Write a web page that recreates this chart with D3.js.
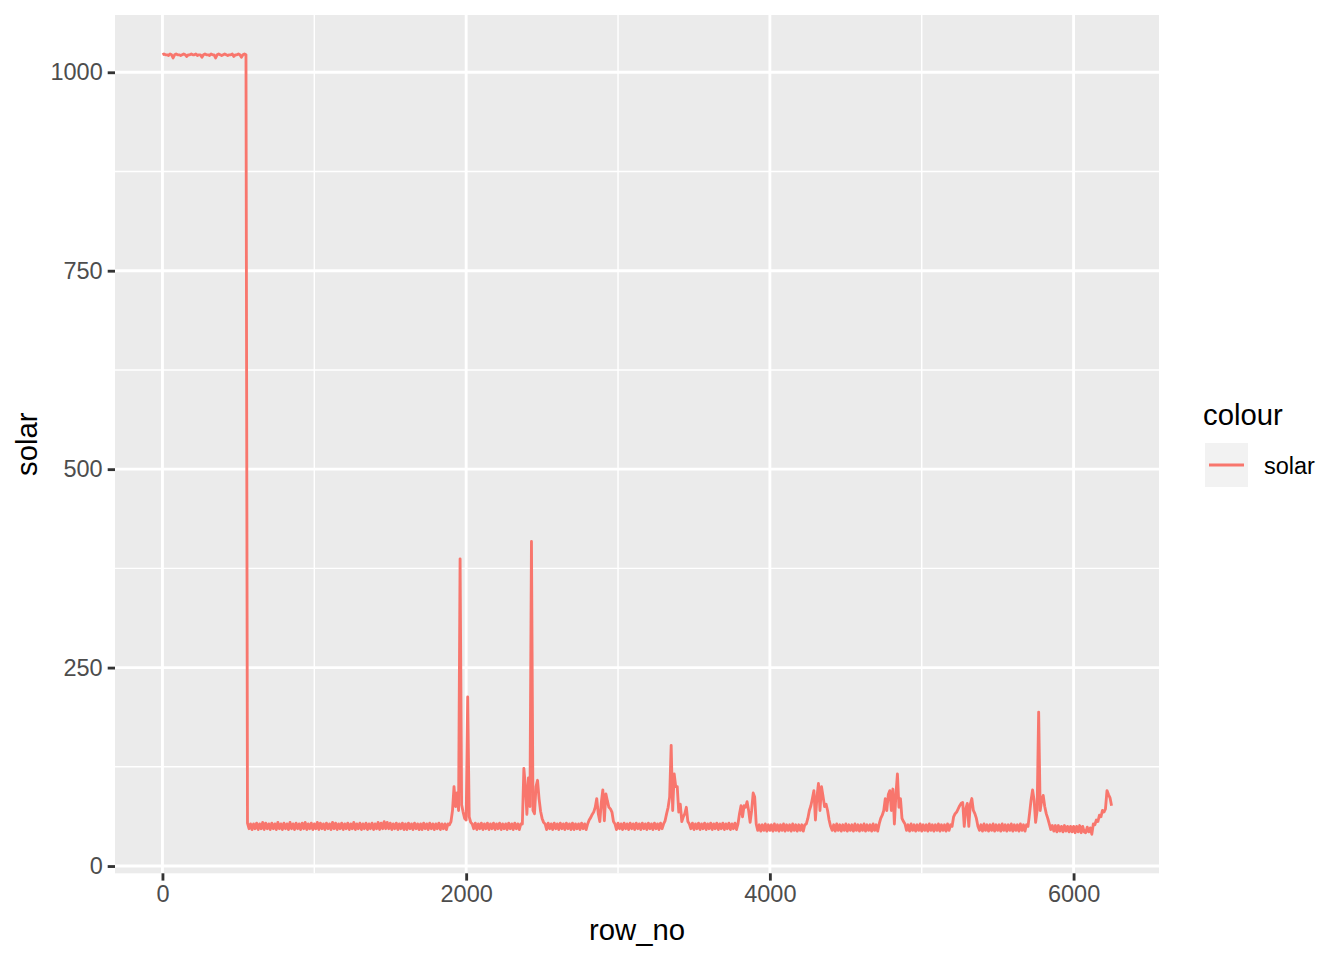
<!DOCTYPE html>
<html>
<head>
<meta charset="utf-8">
<script src="https://cdn.jsdelivr.net/npm/d3@7"></script>
<style>
  body { margin: 0; background: #fff; }
  svg text { font-family: "Liberation Sans", Arial, Helvetica, sans-serif; }
</style>
</head>
<body>
<div id="chart"></div>
<script>
// row_no runs from rowStart in steps of rowStep
const rowStart = 0;
const rowStep = 10;

// solar readings, one per rowStep rows, 20 per line = 200 rows
const solar = [
  1022, 1023, 1022, 1022, 1021, 1023, 1022, 1018, 1022, 1023, 1022, 1022, 1021, 1022, 1023, 1022, 1020, 1022, 1022, 1023,
  1022, 1022, 1023, 1021, 1022, 1022, 1019, 1022, 1023, 1022, 1022, 1021, 1023, 1022, 1022, 1018, 1022, 1023, 1022, 1021,
  1022, 1023, 1022, 1021, 1022, 1022, 1023, 1020, 1022, 1022, 1023, 1022, 1019, 1022, 1023, 1022, 54, 47, 53, 46,
  53, 47, 54, 46, 53, 47, 55, 46, 54, 47, 53, 46, 54, 47, 53, 46, 55, 47, 53, 46,
  54, 47, 53, 46, 55, 47, 53, 46, 54, 47, 53, 46, 54, 47, 55, 46, 53, 47, 54, 46,
  53, 47, 55, 46, 54, 47, 53, 46, 54, 47, 53, 46, 55, 47, 54, 46, 53, 47, 54, 46,
  53, 47, 54, 46, 53, 47, 55, 46, 53, 47, 54, 46, 53, 47, 54, 46, 53, 47, 54, 46,
  53, 47, 55, 46, 54, 47, 56, 47, 55, 47, 54, 46, 53, 47, 54, 46, 53, 47, 54, 46,
  53, 46, 54, 47, 53, 46, 54, 47, 53, 46, 53, 46, 54, 47, 53, 46, 54, 47, 53, 46,
  53, 47, 54, 46, 53, 47, 53, 46, 53, 52, 56, 70, 100, 75, 92, 70, 387, 77, 68, 60,
  58, 213, 62, 55, 53, 47, 54, 46, 53, 47, 54, 46, 53, 47, 54, 46, 53, 47, 54, 46,
  53, 47, 54, 46, 53, 47, 53, 46, 54, 47, 53, 46, 54, 47, 53, 46, 53, 53, 123, 100,
  65, 111, 75, 409, 70, 66, 100, 108, 85, 69, 60, 55, 53, 46, 54, 47, 53, 46, 54, 47,
  53, 46, 54, 47, 53, 46, 54, 47, 53, 46, 54, 46, 53, 47, 53, 46, 54, 47, 53, 46,
  53, 58, 61, 65, 68, 74, 85, 66, 56, 80, 96, 57, 91, 82, 74, 72, 68, 56, 53, 46,
  54, 47, 53, 46, 54, 47, 53, 46, 54, 47, 53, 46, 54, 47, 53, 46, 54, 47, 53, 46,
  54, 47, 53, 46, 54, 47, 53, 46, 54, 47, 53, 57, 66, 74, 87, 152, 70, 116, 100, 100,
  68, 78, 56, 62, 66, 74, 56, 53, 47, 54, 46, 53, 47, 54, 46, 53, 47, 54, 46, 53,
  47, 54, 46, 53, 47, 54, 46, 53, 47, 54, 46, 53, 47, 54, 46, 53, 47, 54, 46, 53,
  66, 76, 62, 76, 74, 81, 70, 55, 70, 92, 87, 53, 45, 52, 44, 52, 45, 53, 44, 52,
  45, 52, 44, 53, 45, 52, 44, 52, 45, 53, 44, 52, 45, 52, 44, 53, 45, 52, 44, 52,
  45, 52, 44, 52, 53, 60, 70, 76, 85, 95, 58, 87, 104, 70, 100, 88, 75, 78, 70, 58,
  50, 45, 52, 44, 53, 45, 52, 44, 52, 45, 53, 44, 52, 45, 52, 44, 53, 45, 52, 44,
  52, 45, 53, 44, 52, 45, 52, 44, 53, 45, 52, 44, 53, 60, 64, 70, 85, 70, 90, 95,
  70, 97, 53, 90, 116, 74, 85, 60, 56, 53, 45, 52, 44, 53, 45, 52, 44, 52, 45, 53,
  44, 52, 45, 52, 44, 53, 45, 52, 44, 52, 45, 53, 44, 52, 45, 52, 44, 53, 45, 52,
  50, 62, 66, 68, 72, 76, 79, 80, 50, 72, 79, 50, 78, 85, 70, 66, 60, 50, 45, 52,
  44, 53, 45, 52, 44, 52, 45, 53, 44, 52, 45, 52, 44, 53, 45, 52, 44, 52, 45, 53,
  44, 52, 45, 52, 44, 53, 45, 52, 44, 52, 50, 66, 83, 96, 83, 55, 70, 194, 70, 83,
  89, 75, 66, 60, 53, 46, 51, 44, 51, 43, 51, 44, 50, 43, 51, 44, 50, 43, 50, 43,
  50, 42, 50, 43, 51, 42, 50, 43, 42, 49, 43, 48, 40, 53, 52, 58, 56, 64, 62, 70,
  68, 72, 95, 90, 86, 76
];

const xTicks = [0, 2000, 4000, 6000];
const xMinor = [1000, 3000, 5000];
const yTicks = [0, 250, 500, 750, 1000];
const yMinor = [125, 375, 625, 875];

const seriesName = 'solar';
const lineColor = '#F8766D';

const width = 1344;
const height = 960;
const panel = {left: 115, right: 1159, top: 15, bottom: 873.3};

const points = solar.map((v, i) => ({row: rowStart + i * rowStep, value: v}));

function expand (ext) {
  let pad = (ext[1] - ext[0]) * 0.05;
  return [ext[0] - pad, ext[1] + pad];
}

const x = d3.scaleLinear()
  .domain(expand(d3.extent(points, d => d.row)))
  .range([panel.left, panel.right]);

const y = d3.scaleLinear()
  .domain(expand(d3.extent(points, d => d.value)))
  .range([panel.bottom, panel.top]);

const svg = d3.select('#chart').append('svg')
  .attr('width', width)
  .attr('height', height);

svg.append('rect')
  .attr('x', panel.left)
  .attr('y', panel.top)
  .attr('width', panel.right - panel.left)
  .attr('height', panel.bottom - panel.top)
  .attr('fill', '#EBEBEB');

// grid lines
const grid = svg.append('g');
grid.selectAll('.xminor').data(xMinor).enter().append('line')
  .attr('x1', d => x(d)).attr('x2', d => x(d))
  .attr('y1', panel.top).attr('y2', panel.bottom)
  .attr('stroke', '#fff').attr('stroke-width', 1.42);
grid.selectAll('.yminor').data(yMinor).enter().append('line')
  .attr('x1', panel.left).attr('x2', panel.right)
  .attr('y1', d => y(d)).attr('y2', d => y(d))
  .attr('stroke', '#fff').attr('stroke-width', 1.42);
grid.selectAll('.xmajor').data(xTicks).enter().append('line')
  .attr('x1', d => x(d)).attr('x2', d => x(d))
  .attr('y1', panel.top).attr('y2', panel.bottom)
  .attr('stroke', '#fff').attr('stroke-width', 2.84);
grid.selectAll('.ymajor').data(yTicks).enter().append('line')
  .attr('x1', panel.left).attr('x2', panel.right)
  .attr('y1', d => y(d)).attr('y2', d => y(d))
  .attr('stroke', '#fff').attr('stroke-width', 2.84);

svg.append('clipPath').attr('id', 'clip')
  .append('rect')
  .attr('x', panel.left).attr('y', panel.top)
  .attr('width', panel.right - panel.left)
  .attr('height', panel.bottom - panel.top);

const line = d3.line()
  .x(d => x(d.row))
  .y(d => y(d.value));

svg.append('path')
  .datum(points)
  .attr('clip-path', 'url(#clip)')
  .attr('d', line)
  .attr('fill', 'none')
  .attr('stroke', lineColor)
  .attr('stroke-width', 2.84)
  .attr('stroke-linejoin', 'round');

// axes
const xAxis = svg.append('g')
  .attr('transform', 'translate(0,' + panel.bottom + ')')
  .call(d3.axisBottom(x).tickValues(xTicks).tickSize(7.3).tickPadding(5).tickFormat(d3.format('d')));

const yAxis = svg.append('g')
  .attr('transform', 'translate(' + panel.left + ',0)')
  .call(d3.axisLeft(y).tickValues(yTicks).tickSize(7.3).tickPadding(5).tickFormat(d3.format('d')));

[xAxis, yAxis].forEach(a => {
  a.select('.domain').remove();
  a.selectAll('.tick line').attr('stroke', '#333333').attr('stroke-width', 2.84);
  a.selectAll('.tick text')
    .attr('fill', '#4D4D4D')
    .style('font-size', '23.5px')
    .style('font-family', '"Liberation Sans", Arial, sans-serif');
});

// axis titles
svg.append('text')
  .attr('x', (panel.left + panel.right) / 2)
  .attr('y', 940)
  .attr('text-anchor', 'middle')
  .style('font-size', '29.3px')
  .attr('fill', '#000')
  .text('row_no');

svg.append('text')
  .attr('transform', 'translate(37,' + (panel.top + panel.bottom) / 2 + ') rotate(-90)')
  .attr('text-anchor', 'middle')
  .style('font-size', '29.3px')
  .attr('fill', '#000')
  .text('solar');

// legend
const legend = svg.append('g');
legend.append('text')
  .attr('x', 1203)
  .attr('y', 425)
  .style('font-size', '29.3px')
  .attr('fill', '#000')
  .text('colour');
legend.append('rect')
  .attr('x', 1205).attr('y', 443)
  .attr('width', 43).attr('height', 44)
  .attr('fill', '#F2F2F2');
legend.append('line')
  .attr('x1', 1209).attr('x2', 1244)
  .attr('y1', 465).attr('y2', 465)
  .attr('stroke', lineColor)
  .attr('stroke-width', 2.84);
legend.append('text')
  .attr('x', 1264)
  .attr('y', 473.5)
  .style('font-size', '23.5px')
  .attr('fill', '#000')
  .text(seriesName);
</script>
</body>
</html>
